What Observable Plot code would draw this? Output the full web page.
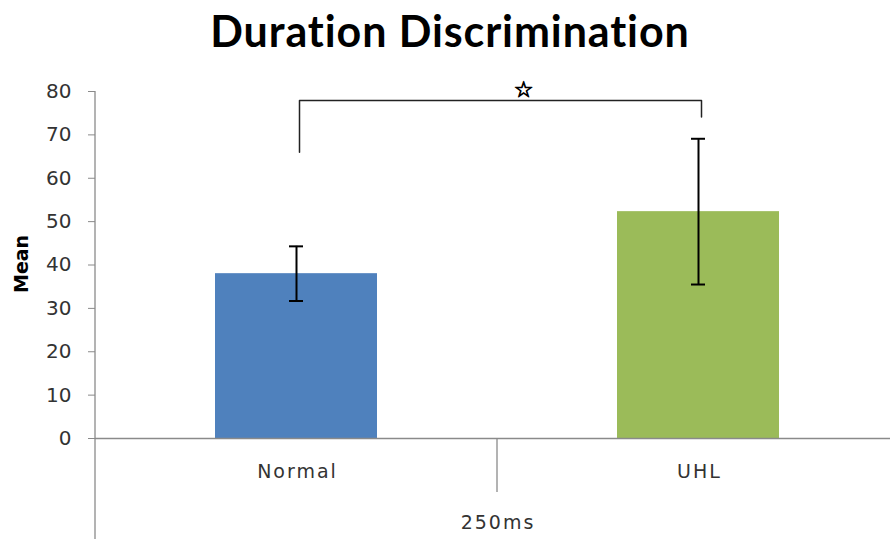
<!DOCTYPE html>
<html>
<head>
<meta charset="utf-8">
<script src="https://cdn.jsdelivr.net/npm/d3@7"></script>
<script src="https://cdn.jsdelivr.net/npm/@observablehq/plot@0.6"></script>
<style>
  html, body { margin: 0; padding: 0; background: #fff; overflow: hidden; }
  #title { height: 62px; line-height: 62px; text-align: center; font-family: Lato, sans-serif; font-weight: 700; font-size: 43px; letter-spacing: 0.9px; color: #000; padding-left: 10px; font-variant-ligatures: none; font-feature-settings: "liga" 0; }
  #chart g[aria-label="x-axis tick label"] { letter-spacing: 2px; }
</style>
</head>
<body>
<div id="title">Duration Discrimination</div>
<div id="chart"></div>
<script>
// ---- data ----
const groups = ["Normal", "UHL"];
const means = [38.0, 52.3];
const errors = [6.3, 16.8];
const barColors = ["#4F81BD", "#9BBB59"];
const yTicks = [0, 10, 20, 30, 40, 50, 60, 70, 80];
const superCategory = "250ms";
const yLabel = "Mean";
const bracketTop = 77.9;
const bracketLegEnds = [66, 74.1];
const sigSymbol = "\u2606";

const data = groups.map((g, i) => ({group: g, mean: means[i], lo: means[i] - errors[i], hi: means[i] + errors[i]}));
const bracket = [
  {group: groups[0], v: bracketLegEnds[0]},
  {group: groups[0], v: bracketTop},
  {group: groups[1], v: bracketTop},
  {group: groups[1], v: bracketLegEnds[1]}
];

// outer axis lines, category separator and the outer (super) category label
function categoryAxis(index, {x, y}, values, dim) {
  const g = d3.create("svg:g");
  const lines = g.append("g").attr("stroke", "#8a8a8a").attr("stroke-width", 1.3);
  const left = dim.marginLeft, right = dim.width - dim.marginRight;
  lines.append("line").attr("x1", left).attr("x2", left)
    .attr("y1", y(yTicks[yTicks.length - 1])).attr("y2", dim.height);
  groups.slice(1).forEach(gv => {
    const bx = x(gv);
    lines.append("line").attr("x1", bx).attr("x2", bx).attr("y1", y(0)).attr("y2", y(0) + 54);
  });
  g.append("text")
    .attr("x", (left + right) / 2 + 1)
    .attr("y", y(0) + 85)
    .attr("text-anchor", "middle")
    .attr("dy", "0.32em")
    .attr("fill", "#333")
    .attr("font-size", 19)
    .attr("letter-spacing", "2px")
    .text(superCategory);
  return g.node();
}

const chart = Plot.plot({
  width: 890,
  height: 477,
  marginTop: 29,
  marginBottom: 101,
  marginLeft: 95,
  marginRight: -9,
  style: {fontFamily: "DejaVu Sans, sans-serif", fontSize: "18px", color: "#404040", background: "#fff"},
  x: {domain: groups, padding: 0, label: null},
  y: {domain: [0, 80], label: null},
  color: {domain: groups, range: barColors},
  marks: [
    Plot.barY(data, {x: "group", y: "mean", fill: "group", insetLeft: 120, insetRight: 120}),
    Plot.ruleY([0], {stroke: "#8a8a8a", strokeWidth: 1.3}),
    categoryAxis,
    Plot.ruleX(data, {x: "group", y1: "lo", y2: "hi", stroke: "#000", strokeWidth: 2}),
    Plot.tickY(data, {x: "group", y: "lo", stroke: "#000", strokeWidth: 2, insetLeft: 194, insetRight: 194}),
    Plot.tickY(data, {x: "group", y: "hi", stroke: "#000", strokeWidth: 2, insetLeft: 194, insetRight: 194}),
    Plot.line(bracket, {x: "group", y: "v", stroke: "#222", strokeWidth: 1.5, dx: 3}),
    Plot.text([sigSymbol], {x: () => groups[1], y: () => bracketTop, text: d => d, dx: -175, dy: -11, fontSize: 22, fill: "#000", stroke: "#000", strokeWidth: 0.9}),
    Plot.axisY({ticks: yTicks, tickSize: 7, tickPadding: 17, stroke: "#8a8a8a", fill: "#333", fontSize: 20, label: null}),
    Plot.axisX({tickSize: 0, tickPadding: 26, fontSize: 19, fill: "#333", label: null, dx: 1}),
    Plot.text([yLabel], {frameAnchor: "left", dx: -74, dy: 28, rotate: -90, text: d => d, fontSize: 19, fontWeight: "bold", fill: "#000"})
  ]
});
document.getElementById("chart").appendChild(chart);
</script>
</body>
</html>
